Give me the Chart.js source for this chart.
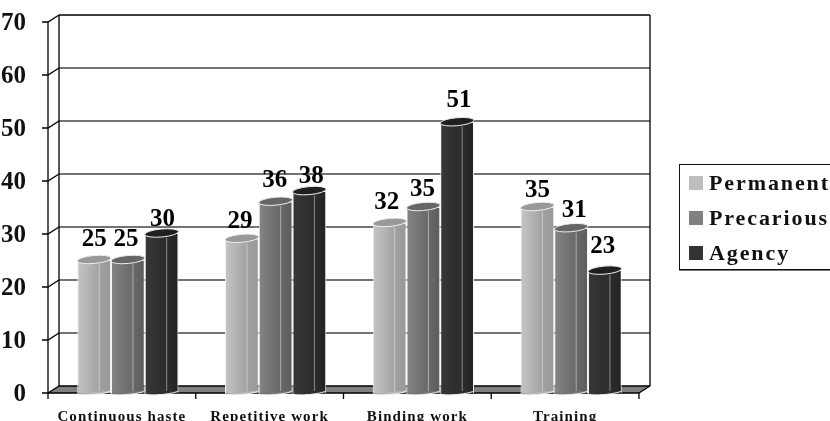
<!DOCTYPE html>
<html lang="en">
<head>
<meta charset="UTF-8">
<title>Working conditions</title>
<script src="https://cdn.jsdelivr.net/npm/chart.js"></script>
<style>
  html, body { margin: 0; padding: 0; background: #fff; overflow: hidden; }
  #wrap { position: relative; width: 830px; height: 421px; overflow: hidden; }
  canvas { display: block; }
  #legend { position: absolute; left: 679px; top: 164px; width: 170px; height: 104px; border: 1px solid #111;
    box-shadow: 0 1px 0 #777; font: bold 22px "Liberation Serif", serif; color: #111; letter-spacing: 1.9px; }
  #legend div { position: absolute; left: 9px; height: 24px; line-height: 24px; white-space: nowrap; }
  #legend i { display: inline-block; width: 14px; height: 14px; margin-right: 6px; vertical-align: 0; }
</style>
</head>
<body>
<div id="wrap">
  <canvas id="chart" width="830" height="421"></canvas>
  <div id="legend"></div>
</div>
<script>
const categories = ['Continuous haste', 'Repetitive work', 'Binding work', 'Training'];
const seriesNames = ['Permanent', 'Precarious', 'Agency'];
const permanent = [25, 29, 32, 35];
const precarious = [25, 36, 35, 31];
const agency = [30, 38, 51, 23];
const swatches = ['#bdbdbd', '#808080', '#333333'];
const tops = ['#999999', '#666666', '#1f1f1f'];
const shades = [
  ['#c4c4c4', '#b4b4b4', '#a0a0a0', '#989898'],
  ['#858585', '#757575', '#686868', '#5c5c5c'],
  ['#383838', '#303030', '#2c2c2c', '#222222']
];
// the value labels were placed by hand in the original, so nudge each one
const nudgeX = [[0, -2, -3, 0], [-2, -1, -1, 3], [1, 2, 2, -2]];
const nudgeY = [[1, 4, 1, 5], [1, 0, 4, 4], [8, 7, 0, -3]];

const font = '"Liberation Serif", serif';
const depthX = 11, depthY = 7, shiftX = 6;
const groupShare = 0.685;

function barFill(ctx) {
  const chart = ctx.chart, xs = chart.scales.x;
  const colors = shades[ctx.datasetIndex];
  if (!xs || !xs.width) return colors[0];
  const w = xs.width / categories.length * groupShare / 3;
  const cx = xs.getPixelForValue(ctx.dataIndex) + (ctx.datasetIndex - 1) * w;
  const g = chart.ctx.createLinearGradient(cx - w / 2, 0, cx + w / 2, 0);
  colors.forEach((c, i) => g.addColorStop(i / (colors.length - 1), c));
  return g;
}

function tilted(c, x, y, rx, ry, from, to) {
  c.beginPath();
  c.ellipse(x, y, rx, ry, -0.09, from, to);
}

// back wall, floor and front axis of the fake 3D box
const box = {
  id: 'box',
  beforeDraw(chart) {
    if (!chart.scales.x._spaced) {
      const xs = chart.scales.x, orig = xs.drawLabels;
      xs.drawLabels = function (area) {
        chart.ctx.letterSpacing = '1.1px';
        orig.call(xs, area);
        chart.ctx.letterSpacing = '0px';
      };
      xs._spaced = true;
    }
  },
  beforeDatasetsDraw(chart) {
    const c = chart.ctx, ys = chart.scales.y, xs = chart.scales.x;
    const front = xs.left - shiftX, right = xs.right - shiftX;
    const y0 = ys.getPixelForValue(0), yTop = ys.getPixelForValue(70);
    c.save();
    c.fillStyle = '#808080';
    c.beginPath();
    c.moveTo(front, y0);
    c.lineTo(right, y0);
    c.lineTo(right + depthX, y0 - depthY);
    c.lineTo(front + depthX, y0 - depthY);
    c.closePath();
    c.fill();

    c.lineWidth = 1.3;
    ys.ticks.forEach(t => {
      const y = ys.getPixelForValue(t.value);
      c.strokeStyle = t.value === 70 || t.value === 0 ? '#000' : '#444';
      c.beginPath();
      c.moveTo(front + depthX, y - depthY);
      c.lineTo(right + depthX, y - depthY);
      c.stroke();
      c.strokeStyle = '#000';
      c.beginPath();
      c.moveTo(front - 6, y);
      c.lineTo(front, y);
      c.lineTo(front + depthX, y - depthY);
      c.stroke();
    });

    c.strokeStyle = '#000';
    c.beginPath();
    c.moveTo(front, yTop);
    c.lineTo(front, y0);
    c.moveTo(front + depthX, yTop - depthY);
    c.lineTo(front + depthX, y0 - depthY);
    c.moveTo(right + depthX, yTop - depthY);
    c.lineTo(right + depthX, y0 - depthY);
    c.lineTo(right, y0);
    c.moveTo(front, y0);
    c.lineTo(right, y0);
    c.stroke();

    for (let i = 0; i <= categories.length; i++) {
      const x = front + (right - front) * i / categories.length;
      c.beginPath();
      c.moveTo(x, y0);
      c.lineTo(x, y0 + 6);
      c.stroke();
    }
    c.restore();
  },
  afterDatasetsDraw(chart) {
    const c = chart.ctx;
    c.save();
    chart.data.datasets.forEach((ds, di) => {
      chart.getDatasetMeta(di).data.forEach((bar, i) => {
        const rx = bar.width / 2;
        // rounded foot of the cylinder, lower arc only
        c.fillStyle = shades[di][1];
        c.strokeStyle = '#f2f2f2';
        c.lineWidth = 1;
        tilted(c, bar.x, bar.base - 1, rx, 2.5, 0, Math.PI);
        c.fill();
        c.stroke();
        // highlight line on the body
        c.strokeStyle = 'rgba(255,255,255,0.45)';
        c.beginPath();
        c.moveTo(bar.x + rx * 0.3, bar.y + 4);
        c.lineTo(bar.x + rx * 0.3, bar.base - 2);
        c.stroke();
        // cap
        c.fillStyle = tops[di];
        c.strokeStyle = '#eee';
        tilted(c, bar.x, bar.y - 1, rx, 4, 0, Math.PI * 2);
        c.fill();
        c.stroke();
        // value
        c.fillStyle = '#000';
        c.font = 'bold 25px ' + font;
        c.textAlign = 'center';
        c.textBaseline = 'middle';
        c.fillText(ds.data[i], bar.x + nudgeX[di][i], bar.y - 22 + nudgeY[di][i]);
      });
    });
    c.restore();
  }
};

const legendEl = document.getElementById('legend');
seriesNames.forEach((name, i) => {
  const row = document.createElement('div');
  row.style.top = (6 + i * 35) + 'px';
  row.innerHTML = '<i style="background:' + swatches[i] + '"></i>' + name;
  legendEl.appendChild(row);
});

new Chart(document.getElementById('chart'), {
  type: 'bar',
  data: {
    labels: categories,
    datasets: [permanent, precarious, agency].map((data, i) => ({
      label: seriesNames[i],
      data,
      backgroundColor: barFill,
      borderColor: '#f2f2f2',
      borderWidth: { left: 1, right: 1, top: 0, bottom: 0 },
      barPercentage: 1,
      categoryPercentage: groupShare
    }))
  },
  options: {
    responsive: false,
    animation: false,
    layout: { autoPadding: false, padding: { top: 22, right: 185 } },
    plugins: { legend: { display: false }, tooltip: { enabled: false } },
    scales: {
      x: {
        grid: { display: false },
        border: { display: false },
        afterFit(s) { s.height = 28; s.paddingLeft = 0; s.paddingRight = 0; },
        ticks: {
          color: '#111',
          padding: 7,
          labelOffset: -shiftX,
          maxRotation: 0,
          autoSkip: false,
          font: { family: font, weight: 'bold', size: 15 }
        }
      },
      y: {
        min: 0,
        max: 70,
        grid: { display: false },
        border: { display: false },
        afterFit(s) { s.width = 54; s.paddingTop = 0; s.paddingBottom = 0; },
        ticks: {
          stepSize: 10,
          color: '#111',
          padding: 20,
          labelOffset: 2,
          font: { family: font, weight: 'bold', size: 25 }
        }
      }
    }
  },
  plugins: [box]
});
</script>
</body>
</html>
